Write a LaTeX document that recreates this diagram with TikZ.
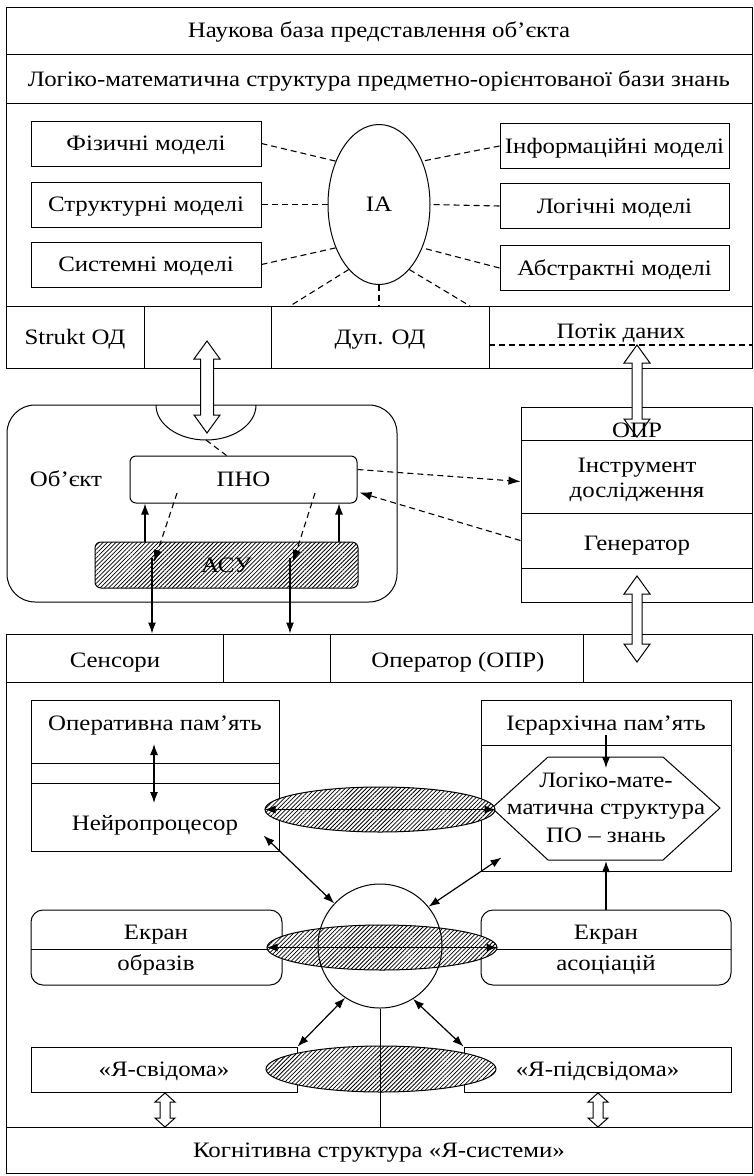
\documentclass[tikz,border=0pt]{standalone}
\usepackage{fontspec}
\setmainfont{Liberation Serif}[FakeStretch=1.13]
\usetikzlibrary{arrows.meta,patterns.meta,calc,shapes.geometric}
\newcommand{\blockdarrow}[6]{%
 \draw[ln,fill=white] (#1,#2) -- (#1+#5,#2+#6) -- (#1+#4,#2+#6) -- (#1+#4,#3-#6) -- (#1+#5,#3-#6) -- (#1,#3) -- (#1-#5,#3-#6) -- (#1-#4,#3-#6) -- (#1-#4,#2+#6) -- (#1-#5,#2+#6) -- cycle;}
\begin{document}
\begin{tikzpicture}[x=1pt,y=-1pt,
  every node/.style={font=\fontsize{22}{27}\selectfont,text height=19.6pt,text depth=5pt},
  ln/.style={line width=1pt},
  box/.style={draw,line width=1pt,rectangle,inner sep=0pt},
  dsh/.style={line width=1.1pt,dash pattern=on 6pt off 4pt},
  tip/.style={-{Latex[length=12pt,width=8.5pt]}},
  arr/.style={line width=1.2pt,-{Latex[length=11pt,width=8pt]}},
  darr/.style={line width=1.2pt,{Latex[length=11pt,width=8pt]}-{Latex[length=11pt,width=8pt]}},
  hatch/.style={preaction={fill=white},pattern={Lines[angle=45,distance=3pt,line width=0.8pt]}},
  hell/.style={ellipse,draw,line width=1pt,inner sep=0pt,hatch},
]
\useasboundingbox (0,0) rectangle (754,1176);
% ---- top block ----
\node[box,minimum width=746pt,minimum height=47pt] (nb) at (379,30.5) {Наукова база представлення об’єкта};
\node[box,minimum width=746pt,minimum height=49pt] (lm) at (379,79) {Логіко-математична структура предметно-орієнтованої бази знань};
\node[box,minimum width=746pt,minimum height=203pt] (area) at (379,204.5) {};
\node[box,minimum width=230pt,minimum height=45pt] (fiz) at (146,143.5) {Фізичні моделі};
\node[box,minimum width=230pt,minimum height=45pt] (str) at (146,204.5) {Структурні моделі};
\node[box,minimum width=230pt,minimum height=45pt] (sys) at (146,264.5) {Системні моделі};
\node[box,minimum width=229pt,minimum height=45pt] (inf) at (614.5,146) {Інформаційні моделі};
\node[box,minimum width=229pt,minimum height=45pt] (log) at (614.5,206) {Логічні моделі};
\node[box,minimum width=229pt,minimum height=45pt] (abs) at (614.5,268) {Абстрактні моделі};
\node[ellipse,draw,line width=1pt,inner sep=0pt,minimum width=102pt,minimum height=160pt] (ia) at (379,204.5) {IA};
\node[box,minimum width=138pt,minimum height=62pt] (c1) at (75,337) {Strukt ОД};
\node[box,minimum width=127pt,minimum height=62pt] (c2) at (207.5,337) {};
\node[box,minimum width=218pt,minimum height=62pt] (c3) at (380,337) {Дуп. ОД};
\node[box,minimum width=263pt,minimum height=62pt] (c4) at (620.5,337) {};
\node (pd) at (621,331) {Потік даних};
\coordinate (pdl) at (489,345);
\coordinate (pdr) at (752,345);
\draw[dsh] (pdl) -- (pdr);
\draw[dsh] (fiz.east) -- (ia.135);
\draw[dsh] (str.east) -- (ia.west);
\draw[dsh] (sys.east) -- (ia.225);
\draw[dsh] (inf.west) -- (ia.45);
\draw[dsh] (log.west) -- (ia.east);
\draw[dsh] (abs.west) -- (ia.-45);
\coordinate (d1) at (290,306);
\coordinate (d3) at (470,306);
\draw[dsh] (ia.245) -- (d1);
\draw[dsh] (ia.south) -- (ia.south |- c3.north);
\draw[dsh] (ia.295) -- (d3);
% ---- object ----
\node[draw,line width=1pt,rounded corners=28pt,minimum width=390pt,minimum height=197pt] (obj) at (202,503.5) {};
\draw[ln] (156,405) arc[start angle=180,end angle=0,x radius=50,y radius=35];
\coordinate (sb) at (206,440);
\node[box,rounded corners=6pt,minimum width=227pt,minimum height=47pt] (pno) at (243.5,479.5) {ПНО};
\node[box,rounded corners=6pt,hatch,minimum width=263pt,minimum height=46pt] (asu) at (226.5,565) {АСУ};
\node (ob) at (66,479) {Об’єкт};
\draw[dsh] (sb) -- ($(pno.north)+(-17,0)$);
\coordinate (xa) at (145,0);
\coordinate (xb) at (339,0);
\draw[arr] (asu.north -| xa) -- (pno.south -| xa);
\draw[arr] (asu.north -| xb) -- (pno.south -| xb);
\coordinate (p1) at (177,493);
\coordinate (p1e) at (154,562);
\coordinate (p2) at (315,493);
\coordinate (p2e) at (293,562);
\draw[dsh,tip] (p1) -- (p1e);
\draw[dsh,tip] (p2) -- (p2e);
% ---- OPR ----
\node[box,minimum width=231pt,minimum height=33pt] (o1) at (636.5,423.5) {};
\node[box,minimum width=231pt,minimum height=73pt] (o2) at (636.5,476.5) {};
\node[box,minimum width=231pt,minimum height=55pt] (o3) at (636.5,540.5) {};
\node[box,minimum width=231pt,minimum height=34pt] (o4) at (636.5,585) {};
\node (o2a) at (637,465) {Інструмент};
\node (o2b) at (637,490) {дослідження};
\node (o3t) at (637,543) {Генератор};
\draw[dsh,tip] ($(pno.east)+(0,-10)$) -- ($(o2.west)+(0,5)$);
\draw[dsh,tip] (o3.west) -- ($(pno.east)+(2,13)$);
% ---- lower frame ----
\node[box,minimum width=746pt,minimum height=539pt] (low) at (379,903.5) {};
\node[box,minimum width=217pt,minimum height=48pt] (s1) at (114.5,658) {};
\node[box,minimum width=107pt,minimum height=48pt] (s2) at (276.5,658) {};
\node[box,minimum width=253pt,minimum height=48pt] (s3) at (456.5,658) {};
\node[box,minimum width=169pt,minimum height=48pt] (s4) at (667.5,658) {};
\node (s1t) at (115,660) {Сенсори};
\node (s3t) at (458,660) {Оператор (ОПР)};
\coordinate (q1) at (152,558);
\coordinate (q2) at (290,558);
\draw[arr] (q1) -- (q1 |- s1.north);
\draw[arr] (q2) -- (q2 |- s2.north);
% block arrows
\blockdarrow{207}{341}{433}{6.5}{13}{18}
\blockdarrow{637}{345}{437}{5}{13}{18}
\blockdarrow{637}{576}{662}{5}{13}{18}
\node (o1t) at (637,430) {ОПР};
% ---- memory ----
\node[box,minimum width=248pt,minimum height=151pt] (op) at (155,775.5) {};
\draw[ln] (31,763) -- (279,763);
\draw[ln] (31,783) -- (279,783);
\node (opt) at (155,723) {Оперативна пам’ять};
\node (np) at (155,823) {Нейропроцесор};
\coordinate (m1) at (154,744);
\coordinate (m2) at (154,803);
\draw[darr] (m1) -- (m2);
\node[box,minimum width=250pt,minimum height=171pt] (ie) at (606,785.5) {};
\draw[ln] (481,745) -- (731,745);
\node (iet) at (606,723) {Ієрархічна пам’ять};
\draw[ln] (492,808) -- (548,757) -- (663,757) -- (720,808) -- (663,860) -- (548,860) -- cycle;
\node (hx1) at (606,780) {Логіко-мате-};
\node (hx) at (606,807) {матична структура};
\node (hx3) at (606,835) {ПО – знань};
\coordinate (h1) at (606,735);
\coordinate (h2) at (606,768);
\coordinate (hb) at (606,861);
\draw[arr] (h1) -- (h2);
% ---- screens ----
\node[box,rounded corners=12pt,minimum width=251pt,minimum height=75pt] (ek1) at (156.5,947.5) {};
\draw[ln] (31,949) -- (282,949);
\node (ek1a) at (156,932) {Екран};
\node (ek1b) at (156,963) {образів};
\node[box,rounded corners=12pt,minimum width=250pt,minimum height=75pt] (ek2) at (606,947.5) {};
\draw[ln] (481,949) -- (731,949);
\node (ek2a) at (606,932) {Екран};
\node (ek2b) at (606,963) {асоціацій};
\draw[arr] (ek2.north -| hb) -- (hb);
% ellipses
\node[hell,minimum width=230pt,minimum height=45pt] (e1) at (380,809.5) {};
\draw[darr] (e1.west) -- (e1.east);
\node[hell,minimum width=230pt,minimum height=45pt] (e2) at (382,947.5) {};
\node[circle,draw,line width=1pt,inner sep=0pt,minimum size=124pt] (cir) at (380,946) {};
\draw[darr] (e2.west) -- (e2.east);
\draw[darr] ($(op.south east)+(-16,-16)$) -- (cir.137);
\draw[darr] (cir.39) -- ($(ie.south west)+(21,-14)$);
% ---- self ----
\node[box,minimum width=266pt,minimum height=45pt] (ya) at (164,1069.5) {«Я-свідома»};
\node[box,minimum width=267pt,minimum height=45pt] (yb) at (597.5,1069.5) {«Я-підсвідома»};
\node[hell,minimum width=230pt,minimum height=46pt] (e3) at (381,1069) {};
\node[box,minimum width=746pt,minimum height=46pt] (kog) at (379,1150) {Когнітивна структура «Я-системи»};
\draw[ln] (cir.south) -- (cir.south |- kog.north);
\draw[darr] (cir.236) -- (ya.north east);
\draw[darr] (cir.302) -- (yb.north west);
\blockdarrow{165}{1093}{1127}{5}{10}{9}
\blockdarrow{598}{1093}{1127}{5}{10}{9}
\end{tikzpicture}
\end{document}
